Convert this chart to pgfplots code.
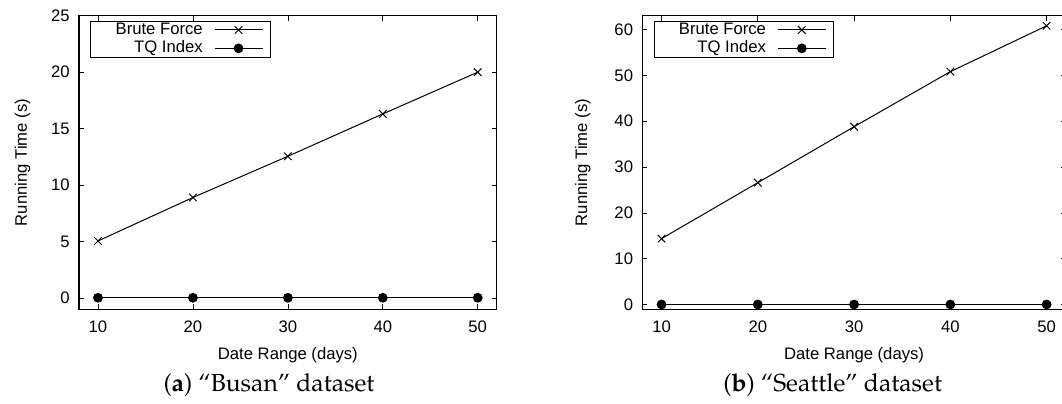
\documentclass[border=0pt]{standalone}
\usepackage[T1]{fontenc}
\usepackage{fontspec}
\setmainfont{Liberation Sans}
\usepackage{pgfplots}
\pgfplotsset{compat=1.18}

\pgfplotstableread{
x bf tq
10 5.05 0.02
20 8.90 0.02
30 12.55 0.02
40 16.30 0.02
50 20.00 0.02
}\busan
\pgfplotstableread{
x bf tq
10 14.4 0.05
20 26.6 0.05
30 38.8 0.05
40 50.8 0.05
50 60.8 0.05
}\seattle

\newcommand{\gpfont}{\fontsize{12.5}{14}\selectfont}

\pgfplotsset{
  gp/.style={
    anchor=south west,
    scale only axis,
    height=220.2pt,
    xmin=8, xmax=52,
    xtick={10,20,30,40,50},
    tick align=inside,
    major tick length=3.8pt,
    every tick/.style={black, line width=0.5pt},
    axis line style={line width=0.9pt},
    /pgf/number format/assume math mode=true,
    ticklabel style={font=\gpfont},
    xticklabel style={yshift=-5.2pt},
    yticklabel style={xshift=-3.4pt},
    xlabel={Date Range (days)},
    ylabel={Running Time (s)},
    every axis x label/.style={at={(axis description cs:0.5,-0.1727)}, anchor=base, font=\gpfont},
    legend cell align=right,
    legend plot pos=right,
    legend image code/.code={\draw[mark repeat=2,mark phase=2,##1] plot coordinates {(0pt,0pt) (18pt,0pt) (36pt,0pt)};},
    legend style={at={(0,1)}, anchor=north west, xshift=8.5pt, yshift=-3.75pt,
      draw=black, line width=0.6pt, font=\gpfont,
      inner xsep=5.5pt, inner ysep=1pt, row sep=2.5pt,
      /tikz/every odd column/.style={column sep=4pt},
      nodes={inner ysep=0pt, inner xsep=4.4pt, text height=8.8pt, text depth=2.5pt}},
  },
  bf/.style={black, line width=0.75pt, mark=x, mark size=4pt, mark options={line width=0.7pt}},
  tq/.style={black, line width=0.9pt, mark=*, mark size=3.2pt},
}

\begin{document}
\begin{tikzpicture}
\useasboundingbox (0,0) rectangle (796.5pt,302.25pt);
\clip (0,0) rectangle (796.5pt,302.25pt);

\begin{axis}[gp,
  at={(59.25pt,70.28pt)}, width=313.3pt,
  ymin=-1, ymax=25, ytick={0,5,10,15,20,25},
  every axis y label/.style={at={(axis description cs:-0.1245,0.5)}, rotate=90, anchor=base, font=\gpfont},
]
\addplot[bf] table[x=x,y=bf] {\busan};
\addlegendentry{\hspace*{8.8pt}Brute Force}
\addplot[tq] table[x=x,y=tq] {\busan};
\addlegendentry{TQ Index}
\end{axis}

\begin{axis}[gp,
  at={(481.7pt,70.28pt)}, width=317.7pt,
  ymin=-1, ymax=63, ytick={0,10,20,30,40,50,60},
  every axis y label/.style={at={(axis description cs:-0.1305,0.5)}, rotate=90, anchor=base, font=\gpfont},
]
\addplot[bf] table[x=x,y=bf] {\seattle};
\addlegendentry{\hspace*{8.8pt}Brute Force}
\addplot[tq] table[x=x,y=tq] {\seattle};
\addlegendentry{TQ Index}
\end{axis}

\node[anchor=base] at (201.75pt,9pt) {\fontencoding{T1}\fontfamily{ppl}\fontsize{18.5}{21}\selectfont (\textbf{a}) ``Busan'' dataset};
\node[anchor=base] at (624.5pt,9pt) {\fontencoding{T1}\fontfamily{ppl}\fontsize{18.5}{21}\selectfont (\textbf{b}) ``Seattle'' dataset};
\end{tikzpicture}
\end{document}
